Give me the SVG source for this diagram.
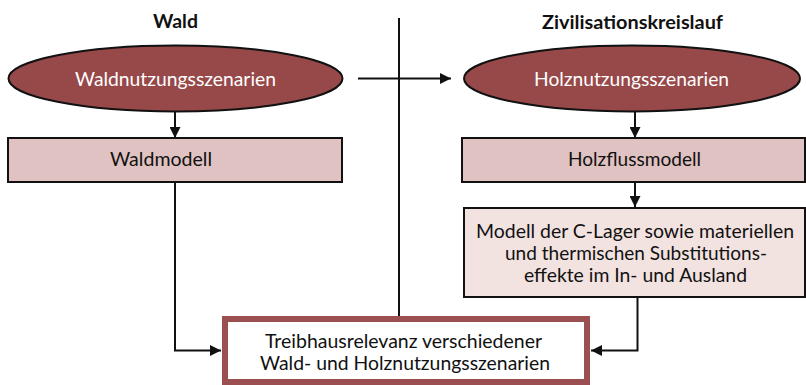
<svg xmlns="http://www.w3.org/2000/svg" width="806" height="385" viewBox="0 0 806 385">
<style>
text{font-family:Lato,"Open Sans","Liberation Sans",sans-serif;font-size:20px;fill:#111;text-anchor:middle}
.title{font-weight:bold;font-size:18px}
.ell{fill:#974849;stroke:#111;stroke-width:2}
.ell-t{fill:#fff}
.box{fill:#dfc2c1;stroke:#111;stroke-width:2}
.box2{fill:#f2e2e0;stroke:#111;stroke-width:2}
.res{fill:#fff;stroke:#9b4f50;stroke-width:6}
.ln{fill:none;stroke:#111;stroke-width:2}
</style>
<defs>
<marker id="ah" viewBox="0 0 10 10" refX="10" refY="5" markerWidth="11" markerHeight="11" markerUnits="userSpaceOnUse" orient="auto">
<path d="M0,0L10,5L0,10z" fill="#111"/>
</marker>
</defs>
<g id="titles">
<text class="title" x="175.5" y="28" textLength="45" lengthAdjust="spacingAndGlyphs">Wald</text>
<text class="title" x="632.5" y="29" textLength="181" lengthAdjust="spacingAndGlyphs">Zivilisationskreislauf</text>
</g>
<g id="connectors">
<line class="ln" x1="399" y1="18" x2="399" y2="317"/>
<line class="ln" x1="358" y1="78.5" x2="451" y2="78.5" marker-end="url(#ah)"/>
<line class="ln" x1="175" y1="112" x2="175" y2="138" marker-end="url(#ah)"/>
<line class="ln" x1="635" y1="112" x2="635" y2="138" marker-end="url(#ah)"/>
<line class="ln" x1="635" y1="182" x2="635" y2="207" marker-end="url(#ah)"/>
<polyline class="ln" points="175,182 175,350.5 221,350.5" marker-end="url(#ah)"/>
<polyline class="ln" points="637.5,297 637.5,350.5 591,350.5" marker-end="url(#ah)"/>
</g>
<g id="waldnutzung">
<ellipse class="ell" cx="175.5" cy="78.5" rx="167" ry="33"/>
<text class="ell-t" x="175.5" y="85.5" textLength="201" lengthAdjust="spacingAndGlyphs">Waldnutzungsszenarien</text>
</g>
<g id="holznutzung">
<ellipse class="ell" cx="632" cy="78.5" rx="168" ry="33"/>
<text class="ell-t" x="631.5" y="85.5" textLength="195" lengthAdjust="spacingAndGlyphs">Holznutzungsszenarien</text>
</g>
<g id="waldmodell">
<rect class="box" x="8" y="138" width="334" height="44"/>
<text x="161" y="166" textLength="102" lengthAdjust="spacingAndGlyphs">Waldmodell</text>
</g>
<g id="holzflussmodell">
<rect class="box" x="462" y="138" width="343" height="44"/>
<text x="634.5" y="166" textLength="133" lengthAdjust="spacingAndGlyphs">Holzflussmodell</text>
</g>
<g id="clager">
<rect class="box2" x="464" y="208" width="341" height="89"/>
<text x="635" y="238" textLength="318" lengthAdjust="spacingAndGlyphs">Modell der C-Lager sowie materiellen</text>
<text x="636" y="260" textLength="262" lengthAdjust="spacingAndGlyphs">und thermischen Substitutions-</text>
<text x="635.5" y="282" textLength="223" lengthAdjust="spacingAndGlyphs">effekte im In- und Ausland</text>
</g>
<g id="treibhaus">
<rect class="res" x="225" y="319" width="362" height="63"/>
<text x="403.5" y="347.5" textLength="277" lengthAdjust="spacingAndGlyphs">Treibhausrelevanz verschiedener</text>
<text x="405" y="370" textLength="290" lengthAdjust="spacingAndGlyphs">Wald- und Holznutzungsszenarien</text>
</g>
</svg>
